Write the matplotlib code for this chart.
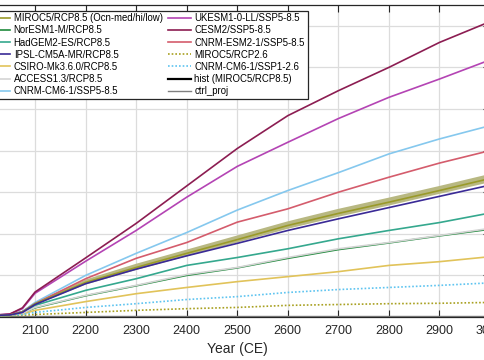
import numpy as np
import matplotlib.pyplot as plt

plt.rcParams['font.family'] = ['Liberation Sans', 'DejaVu Sans']

years = [2000, 2050, 2075, 2100, 2200, 2300, 2400, 2500, 2600, 2700, 2800, 2900, 3000]

miroc85 = [0.03, 0.05, 0.12, 0.32, 0.83, 1.19, 1.53, 1.86, 2.20, 2.49, 2.76, 3.04, 3.33]
miroc85_hi = [0.03, 0.05, 0.13, 0.35, 0.90, 1.28, 1.62, 1.96, 2.30, 2.60, 2.87, 3.15, 3.44]
miroc85_lo = [0.03, 0.05, 0.11, 0.29, 0.78, 1.13, 1.46, 1.79, 2.12, 2.41, 2.68, 2.96, 3.24]
noresm = [0.03, 0.04, 0.09, 0.22, 0.51, 0.75, 1.00, 1.18, 1.41, 1.62, 1.78, 1.95, 2.11]
hadgem = [0.03, 0.04, 0.10, 0.28, 0.64, 0.92, 1.24, 1.43, 1.64, 1.88, 2.08, 2.27, 2.50]
ipsl = [0.03, 0.05, 0.11, 0.30, 0.80, 1.15, 1.47, 1.77, 2.08, 2.36, 2.63, 2.90, 3.17]
csiro = [0.03, 0.04, 0.07, 0.16, 0.37, 0.56, 0.71, 0.85, 0.97, 1.09, 1.24, 1.33, 1.45]
access = [0.03, 0.04, 0.09, 0.23, 0.52, 0.76, 1.02, 1.19, 1.43, 1.64, 1.79, 1.96, 2.13]
cnrm_cm6_585 = [0.03, 0.05, 0.13, 0.35, 1.00, 1.53, 2.03, 2.57, 3.04, 3.47, 3.92, 4.28, 4.60]
ukesm = [0.03, 0.07, 0.20, 0.57, 1.34, 2.08, 2.88, 3.62, 4.20, 4.77, 5.28, 5.72, 6.18]
cesm2 = [0.03, 0.07, 0.22, 0.60, 1.42, 2.25, 3.15, 4.05, 4.84, 5.44, 6.00, 6.60, 7.10]
cnrm_esm2 = [0.03, 0.05, 0.12, 0.32, 0.92, 1.41, 1.79, 2.28, 2.60, 3.00, 3.36, 3.70, 4.00]
miroc26 = [0.03, 0.03, 0.04, 0.06, 0.11, 0.16, 0.20, 0.23, 0.28, 0.30, 0.32, 0.33, 0.35]
cnrm_cm6_126 = [0.03, 0.04, 0.06, 0.11, 0.23, 0.32, 0.42, 0.49, 0.59, 0.66, 0.71, 0.76, 0.82]

hist_years = [2000, 2050, 2075, 2100]
hist = [0.03, 0.05, 0.12, 0.32]
ctrl = [0.02, 0.02, 0.02, 0.02, 0.02, 0.02, 0.02, 0.02, 0.02, 0.02, 0.02, 0.02, 0.02]

xtick_labels = ['', '2100', '2200', '2300', '2400', '2500', '2600', '2700', '2800', '2900', '3000']

fig = plt.figure(figsize=(4.85, 3.6), dpi=100)
ax_left = -15.5 / 485
ax = fig.add_axes([ax_left, 1 - 317 / 360, 505.5 / 485, 312 / 360])

lw = 1.2
ax.fill_between(years, miroc85_lo, miroc85_hi, color='#b8b882', lw=0, zorder=2)
h_miroc, = ax.plot(years, miroc85, color='#9a9a2a', lw=lw, zorder=3)
h_nor, = ax.plot(years, noresm, color='#1f8a3c', lw=lw)
h_had, = ax.plot(years, hadgem, color='#35a88e', lw=lw)
h_ipsl, = ax.plot(years, ipsl, color='#3a2a96', lw=lw, zorder=3)
h_csiro, = ax.plot(years, csiro, color='#e1c35a', lw=lw)
h_acc, = ax.plot(years, access, color='#d4d4d4', lw=lw)
h_cnrm85, = ax.plot(years, cnrm_cm6_585, color='#85c8ee', lw=lw)
h_uk, = ax.plot(years, ukesm, color='#b444b4', lw=lw)
h_cesm, = ax.plot(years, cesm2, color='#8c1d52', lw=lw)
h_esm2, = ax.plot(years, cnrm_esm2, color='#d45c6c', lw=lw)
h_m26, = ax.plot(years, miroc26, color='#a8a020', lw=lw, ls=(0, (1, 1.2)))
h_c26, = ax.plot(years, cnrm_cm6_126, color='#5ec4f0', lw=lw, ls=(0, (1, 1.2)))
h_hist, = ax.plot(hist_years, hist, color='black', lw=1.6, zorder=1)
h_ctrl, = ax.plot(years, ctrl, color='#7f7f7f', lw=1.0, zorder=1)

ax.set_xlim(2000, 3000)
ax.set_ylim(0, 7.5)
ax.set_xticks(range(2000, 3001, 100))
ax.set_xticklabels(xtick_labels)
ax.set_yticks(range(0, 8))
ax.set_yticklabels([])
ax.grid(True, color='#dcdcdc', lw=0.9)
ax.set_axisbelow(True)
ax.tick_params(direction='in', top=True, right=True, length=5, width=0.8,
               labelsize=9, pad=6, colors='#262626')
for s in ax.spines.values():
    s.set_color('#262626')
    s.set_linewidth(0.9)
ax.set_xlabel('Year (CE)', fontsize=10, color='#262626', labelpad=3)

handles = [h_miroc, h_nor, h_had, h_ipsl, h_csiro, h_acc, h_cnrm85,
           h_uk, h_cesm, h_esm2, h_m26, h_c26, h_hist, h_ctrl]
labels = ['MIROC5/RCP8.5 (Ocn-med/hi/low)', 'NorESM1-M/RCP8.5', 'HadGEM2-ES/RCP8.5',
          'IPSL-CM5A-MR/RCP8.5', 'CSIRO-Mk3.6.0/RCP8.5', 'ACCESS1.3/RCP8.5',
          'CNRM-CM6-1/SSP5-8.5', 'UKESM1-0-LL/SSP5-8.5', 'CESM2/SSP5-8.5',
          'CNRM-ESM2-1/SSP5-8.5', 'MIROC5/RCP2.6', 'CNRM-CM6-1/SSP1-2.6',
          'hist (MIROC5/RCP8.5)', 'ctrl_proj']
leg = ax.legend(handles, labels, ncol=2, loc='upper left', fontsize=6.9,
                bbox_to_anchor=(ax_left, 1 - 10.5 / 360), bbox_transform=fig.transFigure,
                borderaxespad=0, frameon=True, fancybox=False, framealpha=1,
                edgecolor='#262626', handlelength=2.4, handletextpad=0.35,
                columnspacing=0.55, labelspacing=0.22, borderpad=0.3)
leg.get_frame().set_linewidth(0.9)

fig.savefig('out.png', dpi=100)
